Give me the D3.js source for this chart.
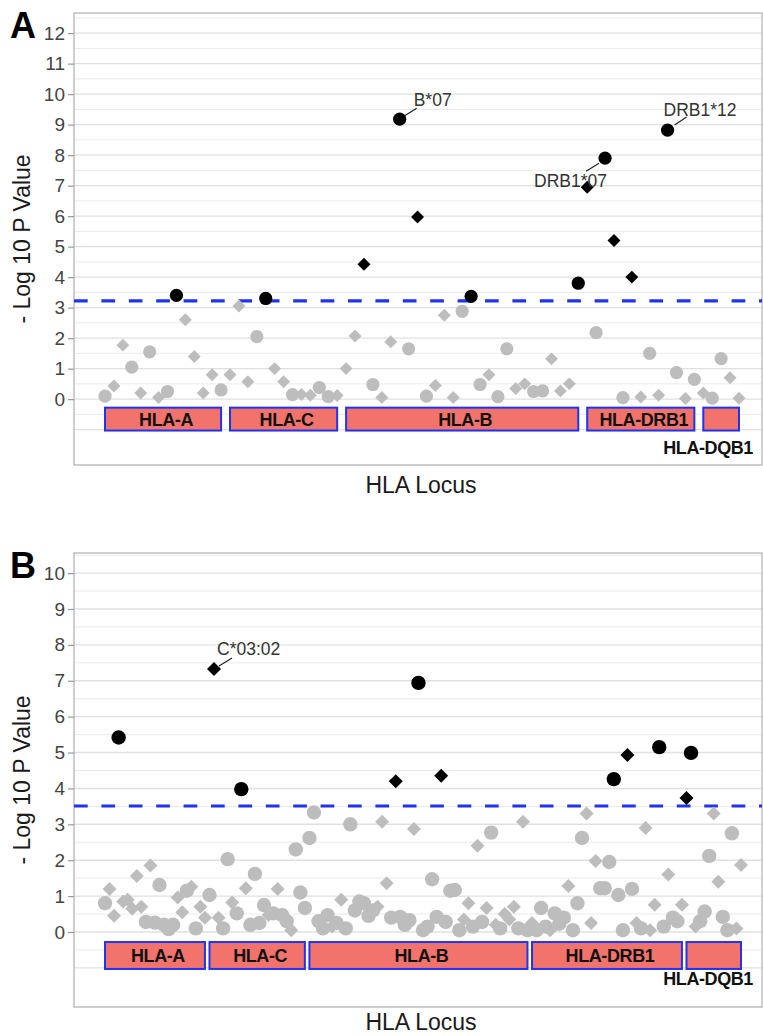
<!DOCTYPE html>
<html>
<head>
<meta charset="utf-8">
<script src="https://cdn.jsdelivr.net/npm/d3@7"></script>
<style>
  body { margin: 0; background: #fff; }
  svg { display: block; font-family: "Liberation Sans", Arial, sans-serif; }
</style>
</head>
<body>
<div id="chart"></div>
<script>
// loci shown as boxes under the points
var lociNames = ["HLA-A", "HLA-C", "HLA-B", "HLA-DRB1", "HLA-DQB1"];
var lociCountA = [14, 13, 27, 13, 5];
var lociCountB = [23, 22, 49, 34, 13];

// panel A : -log10 p per allele, c = circle, d = diamond
var valuesA = [
  0.1, 0.43, 1.77, 1.05, 0.2, 1.55, 0.05, 0.25, 3.4, 2.6, 1.4, 0.2, 0.8, 0.3,
  0.8, 3.05, 0.57, 2.05, 3.3, 1.0, 0.57, 0.15, 0.15, 0.13, 0.38, 0.08, 0.12,
  1.0, 2.07, 4.42, 0.48, 0.05, 1.88, 9.18, 1.65, 5.97, 0.1, 0.45, 2.75, 0.05, 2.88, 3.37, 0.48, 0.8, 0.08, 1.65, 0.35, 0.5, 0.25, 0.27, 1.32, 0.27, 0.5, 3.8,
  6.95, 2.18, 7.9, 5.2, 0.05, 4.0, 0.07, 1.5, 0.13, 8.82, 0.87, 0.02, 0.65,
  0.2, 0.03, 1.33, 0.7, 0.03
];
var shapesA = [
  "c","d","d","c","d","c","d","c","c","d","d","d","d","c",
  "d","d","d","c","c","d","d","c","d","d","c","c","d",
  "d","d","d","c","d","d","c","c","d","c","d","d","d","c","c","c","d","c","c","d","d","c","c","d","d","d","c",
  "d","c","c","d","c","d","d","c","d","c","c","d","c",
  "d","c","c","d","d"
];

// panel B
var valuesB = [
  0.8, 1.2, 0.45, 5.42, 0.85, 0.9, 0.65, 1.56, 0.7, 0.28, 1.85, 0.26, 1.31, 0.2, 0.08, 0.2, 0.96, 0.55, 1.15, 1.26, 0.1, 0.7, 0.4,
  1.03, 7.33, 0.4, 0.1, 2.03, 0.82, 0.52, 3.98, 1.22, 0.2, 1.62, 0.25, 0.75, 0.47, 0.52, 1.2, 0.47, 0.3, 0.05, 2.3, 1.1, 0.67,
  2.62, 3.33, 0.3, 0.1, 0.47, 0.15, 0.25, 0.9, 0.1, 3.0, 0.6, 0.85, 0.8, 0.45, 0.6, 0.7, 3.07, 1.36, 0.4, 4.2, 0.42, 0.2, 0.33, 2.87, 6.94,
  0.05, 0.15, 1.47, 0.42, 4.35, 0.28, 1.15, 1.17, 0.05, 0.35, 0.8, 0.15, 2.4, 0.28, 0.67, 2.77, 0.2, 0.1, 0.5, 0.35, 0.7, 0.1, 3.07, 0.05,
  0.25, 0.05, 0.67, 0.15, 0.05, 0.52, 0.23, 0.4, 1.28, 0.05, 0.8, 2.62, 3.3, 0.25, 1.98, 1.22, 1.22, 1.95, 4.26, 1.03, 0.05, 4.93, 1.2, 0.25, 0.1, 2.9, 0.05, 0.76, 5.15, 0.15, 1.6, 0.4, 0.3, 0.76,
  3.73, 4.99, 0.15, 0.3, 0.57, 2.12, 3.3, 1.4, 0.42, 0.05, 2.75, 0.1, 1.87
];
var shapesB = [
  "c","d","d","c","d","d","d","d","d","c","d","c","c","c","c","c","d","d","c","d","c","d","d",
  "c","d","d","c","c","d","c","c","d","c","c","c","c","d","c","d","c","c","d","c","c","c",
  "c","c","c","c","c","d","c","d","c","c","c","c","c","c","c","d","d","d","c","d","c","c","c","d","c",
  "c","c","c","c","d","c","c","c","c","d","d","c","d","c","d","c","d","c","d","d","d","c","d","c",
  "d","c","c","c","d","c","c","c","d","c","c","c","d","d","d","c","c","c","c","c","c","d","c","d","c","d","d","d","c","c","d","c","c","d",
  "d","c","d","c","c","c","d","d","c","c","c","d","d"
];

var thresholdA = 3.22;
var thresholdB = 3.51;
var ticksA = d3.range(0, 13);
var ticksB = d3.range(0, 11);

// labelled alleles (index into the values arrays)
var labelsA = [{ text: "B*07", idx: 33 }, { text: "DRB1*07", idx: 56 }, { text: "DRB1*12", idx: 63 }];
var labelsB = [{ text: "C*03:02", idx: 24 }];

var W = 763, H = 1036;
var svg = d3.select("#chart").append("svg").attr("width", W).attr("height", H);

var plotLeft = 74, plotRight = 762;

function drawPanel(p) {
    var g = svg.append("g");

    var n = p.values.length;
    var xScale = d3.scaleLinear().domain([0, n - 1]).range([105, p.xEnd]);
    var yScale = d3.scaleLinear().domain(p.domain).range([p.top + p.height, p.top]);

    // grid, every half unit
    var grid = d3.range(-1, p.domain[1], 0.5);
    g.append("g").selectAll("line")
        .data(grid)
        .enter().append("line")
        .attr("x1", plotLeft).attr("x2", plotRight)
        .attr("y1", d => yScale(d)).attr("y2", d => yScale(d))
        .attr("stroke", d => Number.isInteger(d) ? "#e0e0e0" : "#ebebeb")
        .attr("stroke-width", d => Number.isInteger(d) ? 1.4 : 1);

    // panel border
    g.append("rect")
        .attr("x", plotLeft).attr("y", p.top)
        .attr("width", plotRight - plotLeft).attr("height", p.height)
        .attr("fill", "none").attr("stroke", "#b0b0b0").attr("stroke-width", 1.2);

    // y axis
    var yAxis = g.append("g")
        .attr("transform", `translate(${plotLeft},0)`)
        .call(d3.axisLeft(yScale).tickValues(p.ticks).tickSize(6).tickPadding(3));
    yAxis.select(".domain").remove();
    yAxis.selectAll("line").attr("stroke", "#9a9a9a").attr("stroke-width", 1.2);
    yAxis.selectAll("text")
        .attr("fill", "#444")
        .style("font-size", "19px")
        .style("font-family", "'Liberation Sans', Arial, sans-serif");

    // threshold
    g.append("line")
        .attr("x1", plotLeft).attr("x2", plotRight)
        .attr("y1", yScale(p.threshold)).attr("y2", yScale(p.threshold))
        .attr("stroke", "#1f33f2").attr("stroke-width", 3.2)
        .attr("stroke-dasharray", "13.7,13.7");

    // locus boxes
    var start = 0;
    var boxes = p.counts.map(function (c, i) {
        var b = { name: lociNames[i], first: start, last: start + c - 1 };
        start += c;
        return b;
    });
    var yb0 = yScale(-0.28), yb1 = yScale(-1.03);
    g.append("g").selectAll("rect")
        .data(boxes)
        .enter().append("rect")
        .attr("x", d => xScale(d.first))
        .attr("width", d => xScale(d.last) - xScale(d.first))
        .attr("y", yb0).attr("height", yb1 - yb0)
        .attr("fill", "#f2736b")
        .attr("stroke", "#1f33f2").attr("stroke-width", 2);

    g.append("g").selectAll("text")
        .data(boxes)
        .enter().append("text")
        .attr("x", d => d.name === "HLA-DQB1" ? 753 : (xScale(d.first) + xScale(d.last)) / 2 + 3)
        .attr("y", d => d.name === "HLA-DQB1" ? yb1 + p.dqOffset : (yb0 + yb1) / 2 + 7)
        .attr("text-anchor", d => d.name === "HLA-DQB1" ? "end" : "middle")
        .attr("font-weight", "bold")
        .attr("font-size", "18px")
        .attr("letter-spacing", "-0.4px")
        .attr("fill", "#111")
        .text(d => d.name);

    // points
    var pts = p.values.map(function (v, i) {
        return { i: i, v: v, s: p.shapes[i], sig: v > p.threshold };
    });
    var diamond = d3.symbol().type(d3.symbolSquare).size(p.dSize);
    var pg = g.append("g");
    pts.forEach(function (d) {
        var col = d.sig ? "#000" : "#bdbdbd";
        if (d.s === "c") {
            pg.append("circle")
                .attr("cx", xScale(d.i)).attr("cy", yScale(d.v))
                .attr("r", p.r).attr("fill", col);
        } else {
            pg.append("path")
                .attr("d", diamond)
                .attr("transform", `translate(${xScale(d.i)},${yScale(d.v)}) rotate(45)`)
                .attr("fill", col);
        }
    });

    // allele labels with leader lines
    p.labels.forEach(function (l) {
        var px = xScale(l.idx), py = yScale(p.values[l.idx]);
        var o = p.labelOffsets[l.text];
        g.append("line")
            .attr("x1", px + o.l[0]).attr("y1", py + o.l[1])
            .attr("x2", px + o.l[2]).attr("y2", py + o.l[3])
            .attr("stroke", "#222").attr("stroke-width", 1.2);
        g.append("text")
            .attr("x", px + o.t[0]).attr("y", py + o.t[1])
            .attr("text-anchor", o.anchor)
            .attr("font-size", "17.5px")
            .attr("fill", "#333")
            .text(l.text);
    });

    // titles
    g.append("text")
        .attr("transform", `translate(30,${p.top + p.height / 2}) rotate(-90)`)
        .attr("text-anchor", "middle")
        .attr("font-size", "23px")
        .attr("fill", "#1a1a1a")
        .text("- Log 10 P Value");

    g.append("text")
        .attr("x", (plotLeft + plotRight) / 2 + 3)
        .attr("y", p.xTitleY)
        .attr("text-anchor", "middle")
        .attr("font-size", "23px")
        .attr("fill", "#1a1a1a")
        .text("HLA Locus");

    g.append("text")
        .attr("x", 10).attr("y", p.top + 25)
        .attr("font-size", "36px")
        .attr("font-weight", "bold")
        .attr("fill", "#000")
        .text(p.letter);
}

drawPanel({
    letter: "A", top: 13, height: 452, domain: [-2.16, 12.66], xEnd: 739,
    values: valuesA, shapes: shapesA, counts: lociCountA, threshold: thresholdA,
    ticks: ticksA, r: 6.6, dSize: 84, dqOffset: 23, xTitleY: 493,
    labels: labelsA,
    labelOffsets: {
        "B*07": { t: [14, -13], anchor: "start", l: [5, -3.5, 17, -11] },
        "DRB1*07": { t: [2, 29], anchor: "end", l: [-19, 13, -6, 5] },
        "DRB1*12": { t: [-4, -14], anchor: "start", l: [7, -5, 19, -13] }
    }
});

drawPanel({
    letter: "B", top: 553, height: 454, domain: [-2.09, 10.56], xEnd: 741,
    values: valuesB, shapes: shapesB, counts: lociCountB, threshold: thresholdB,
    ticks: ticksB, r: 7.2, dSize: 98, dqOffset: 16, xTitleY: 1030,
    labels: labelsB,
    labelOffsets: {
        "C*03:02": { t: [3, -14], anchor: "start", l: [5, -3, 18, -11] }
    }
});
</script>
</body>
</html>
